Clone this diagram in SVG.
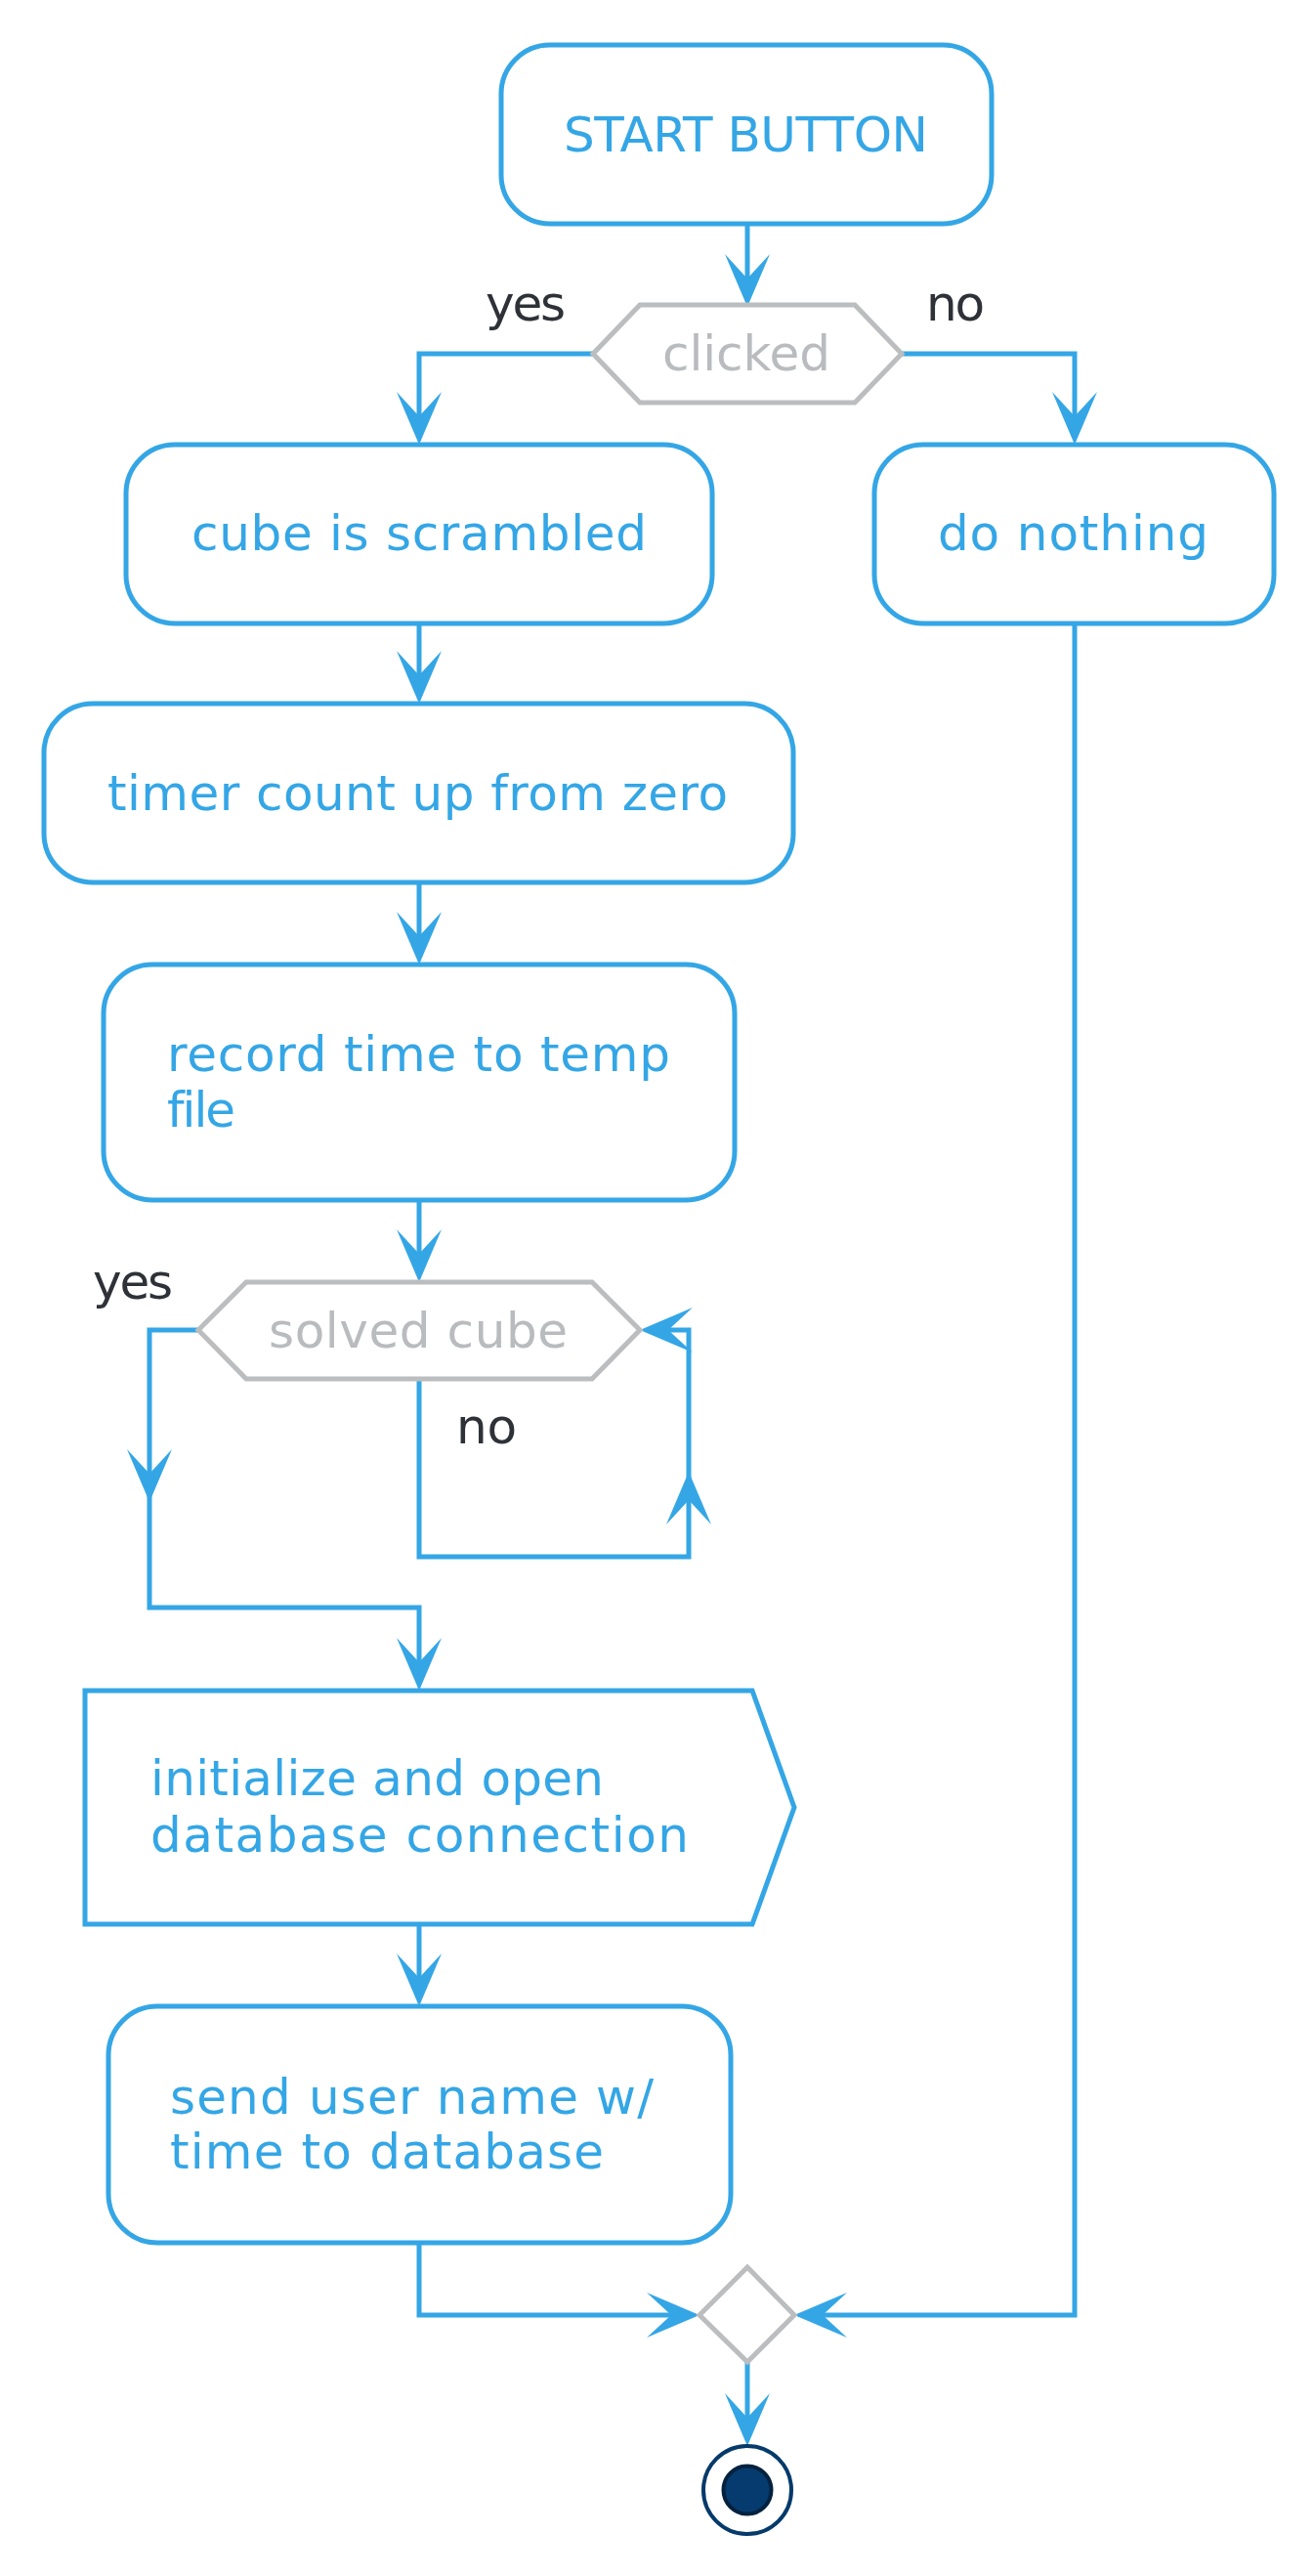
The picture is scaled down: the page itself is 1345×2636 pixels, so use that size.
<svg xmlns="http://www.w3.org/2000/svg" xmlns:xlink="http://www.w3.org/1999/xlink" width="1345" height="2636" viewBox="0 0 1345 2636">
<style>
.box{fill:#FFFFFF;stroke:#34A6E6;stroke-width:5}
.hex{fill:#FFFFFF;stroke:#BBBDBF;stroke-width:5}
.ln{fill:none;stroke:#34A6E6;stroke-width:5}
.ah{fill:#34A6E6;stroke:none}
text{font-family:"DejaVu Sans","Liberation Sans",sans-serif;font-size:50px;font-variant-ligatures:none;font-feature-settings:"liga" 0}
.t{fill:#34A6E6}
.g{fill:#B9BBBE}
.d{fill:#2E3238}
</style>
<defs>
<path id="ah" d="M0,0 L-23,-54 L0,-29 L23,-54 Z"/>
</defs>
<rect width="1345" height="2636" fill="#FFFFFF"/>
<g id="connectors">
<path class="ln" d="M765,229 V300"/>
<path class="ln" d="M607,362 H429 V440"/>
<path class="ln" d="M923,362 H1100 V440"/>
<path class="ln" d="M429,638 V705"/>
<path class="ln" d="M429,903 V972"/>
<path class="ln" d="M429,1228 V1297"/>
<path class="ln" d="M203,1361 H153 V1645 H429 V1715"/>
<path class="ln" d="M429,1411 V1593 H705 V1361 H670"/>
<path class="ln" d="M429,1969 V2038"/>
<path class="ln" d="M429,2295 V2369 H700"/>
<path class="ln" d="M1100,638 V2369 H829"/>
<path class="ln" d="M765,2417 V2490"/>
<g class="ah">
<use xlink:href="#ah" transform="translate(765,314)"/>
<use xlink:href="#ah" transform="translate(429,455)"/>
<use xlink:href="#ah" transform="translate(1100,455)"/>
<use xlink:href="#ah" transform="translate(429,720)"/>
<use xlink:href="#ah" transform="translate(429,987)"/>
<use xlink:href="#ah" transform="translate(429,1312)"/>
<use xlink:href="#ah" transform="translate(153,1537)"/>
<use xlink:href="#ah" transform="translate(705,1506) rotate(180)"/>
<use xlink:href="#ah" transform="translate(655,1361) rotate(90)"/>
<use xlink:href="#ah" transform="translate(429,1730)"/>
<use xlink:href="#ah" transform="translate(429,2053)"/>
<use xlink:href="#ah" transform="translate(716,2369) rotate(-90)"/>
<use xlink:href="#ah" transform="translate(813,2369) rotate(90)"/>
<use xlink:href="#ah" transform="translate(765,2503)"/>
</g>
<text class="d" x="497" y="328" textLength="82" lengthAdjust="spacing">yes</text>
<text class="d" x="948" y="328" textLength="60" lengthAdjust="spacing">no</text>
<text class="d" x="95" y="1329" textLength="82" lengthAdjust="spacing">yes</text>
<text class="d" x="467" y="1477" textLength="62" lengthAdjust="spacing">no</text>
</g>
<g id="start-button">
<rect class="box" x="513" y="46" width="502" height="183" rx="50" ry="50"/>
<text class="t" x="577" y="155" textLength="373" lengthAdjust="spacing">START BUTTON</text>
</g>
<g id="clicked">
<polygon class="hex" points="607,362 655,312 875,312 923,362 875,412 655,412"/>
<text class="g" x="678" y="379" textLength="172" lengthAdjust="spacing">clicked</text>
</g>
<g id="cube-scrambled">
<rect class="box" x="129" y="455" width="600" height="183" rx="50" ry="50"/>
<text class="t" x="196" y="563" textLength="466" lengthAdjust="spacing">cube is scrambled</text>
</g>
<g id="do-nothing">
<rect class="box" x="895" y="455" width="409" height="183" rx="50" ry="50"/>
<text class="t" x="960" y="563" textLength="277" lengthAdjust="spacing">do nothing</text>
</g>
<g id="timer">
<rect class="box" x="45" y="720" width="767" height="183" rx="50" ry="50"/>
<text class="t" x="110" y="829" textLength="635" lengthAdjust="spacing">timer count up from zero</text>
</g>
<g id="record">
<rect class="box" x="106" y="987" width="646" height="241" rx="50" ry="50"/>
<text class="t" x="171" y="1096" textLength="515" lengthAdjust="spacing">record time to temp</text>
<text class="t" x="171" y="1153" textLength="70" lengthAdjust="spacing">file</text>
</g>
<g id="solved-cube">
<polygon class="hex" points="203,1361 252,1312 606,1312 655,1361 606,1411 252,1411"/>
<text class="g" x="275" y="1379" textLength="306" lengthAdjust="spacing">solved cube</text>
</g>
<g id="init-db">
<polygon class="box" points="87,1730 770,1730 813,1849.5 770,1969 87,1969"/>
<text class="t" x="154" y="1837" textLength="464" lengthAdjust="spacing">initialize and open</text>
<text class="t" x="154" y="1895" textLength="551" lengthAdjust="spacing">database connection</text>
</g>
<g id="send">
<rect class="box" x="111" y="2053" width="637" height="242" rx="50" ry="50"/>
<text class="t" x="174" y="2163" textLength="495" lengthAdjust="spacing">send user name w/</text>
<text class="t" x="174" y="2219" textLength="444" lengthAdjust="spacing">time to database</text>
</g>
<g id="merge">
<polygon class="hex" points="765,2320 813,2369 765,2417 716,2369"/>
</g>
<g id="end">
<circle cx="765" cy="2548" r="45" fill="#FFFFFF" stroke="#053A6B" stroke-width="4"/>
<circle cx="765" cy="2548" r="24.5" fill="#053B6F" stroke="#04223F" stroke-width="4"/>
</g>
</svg>
